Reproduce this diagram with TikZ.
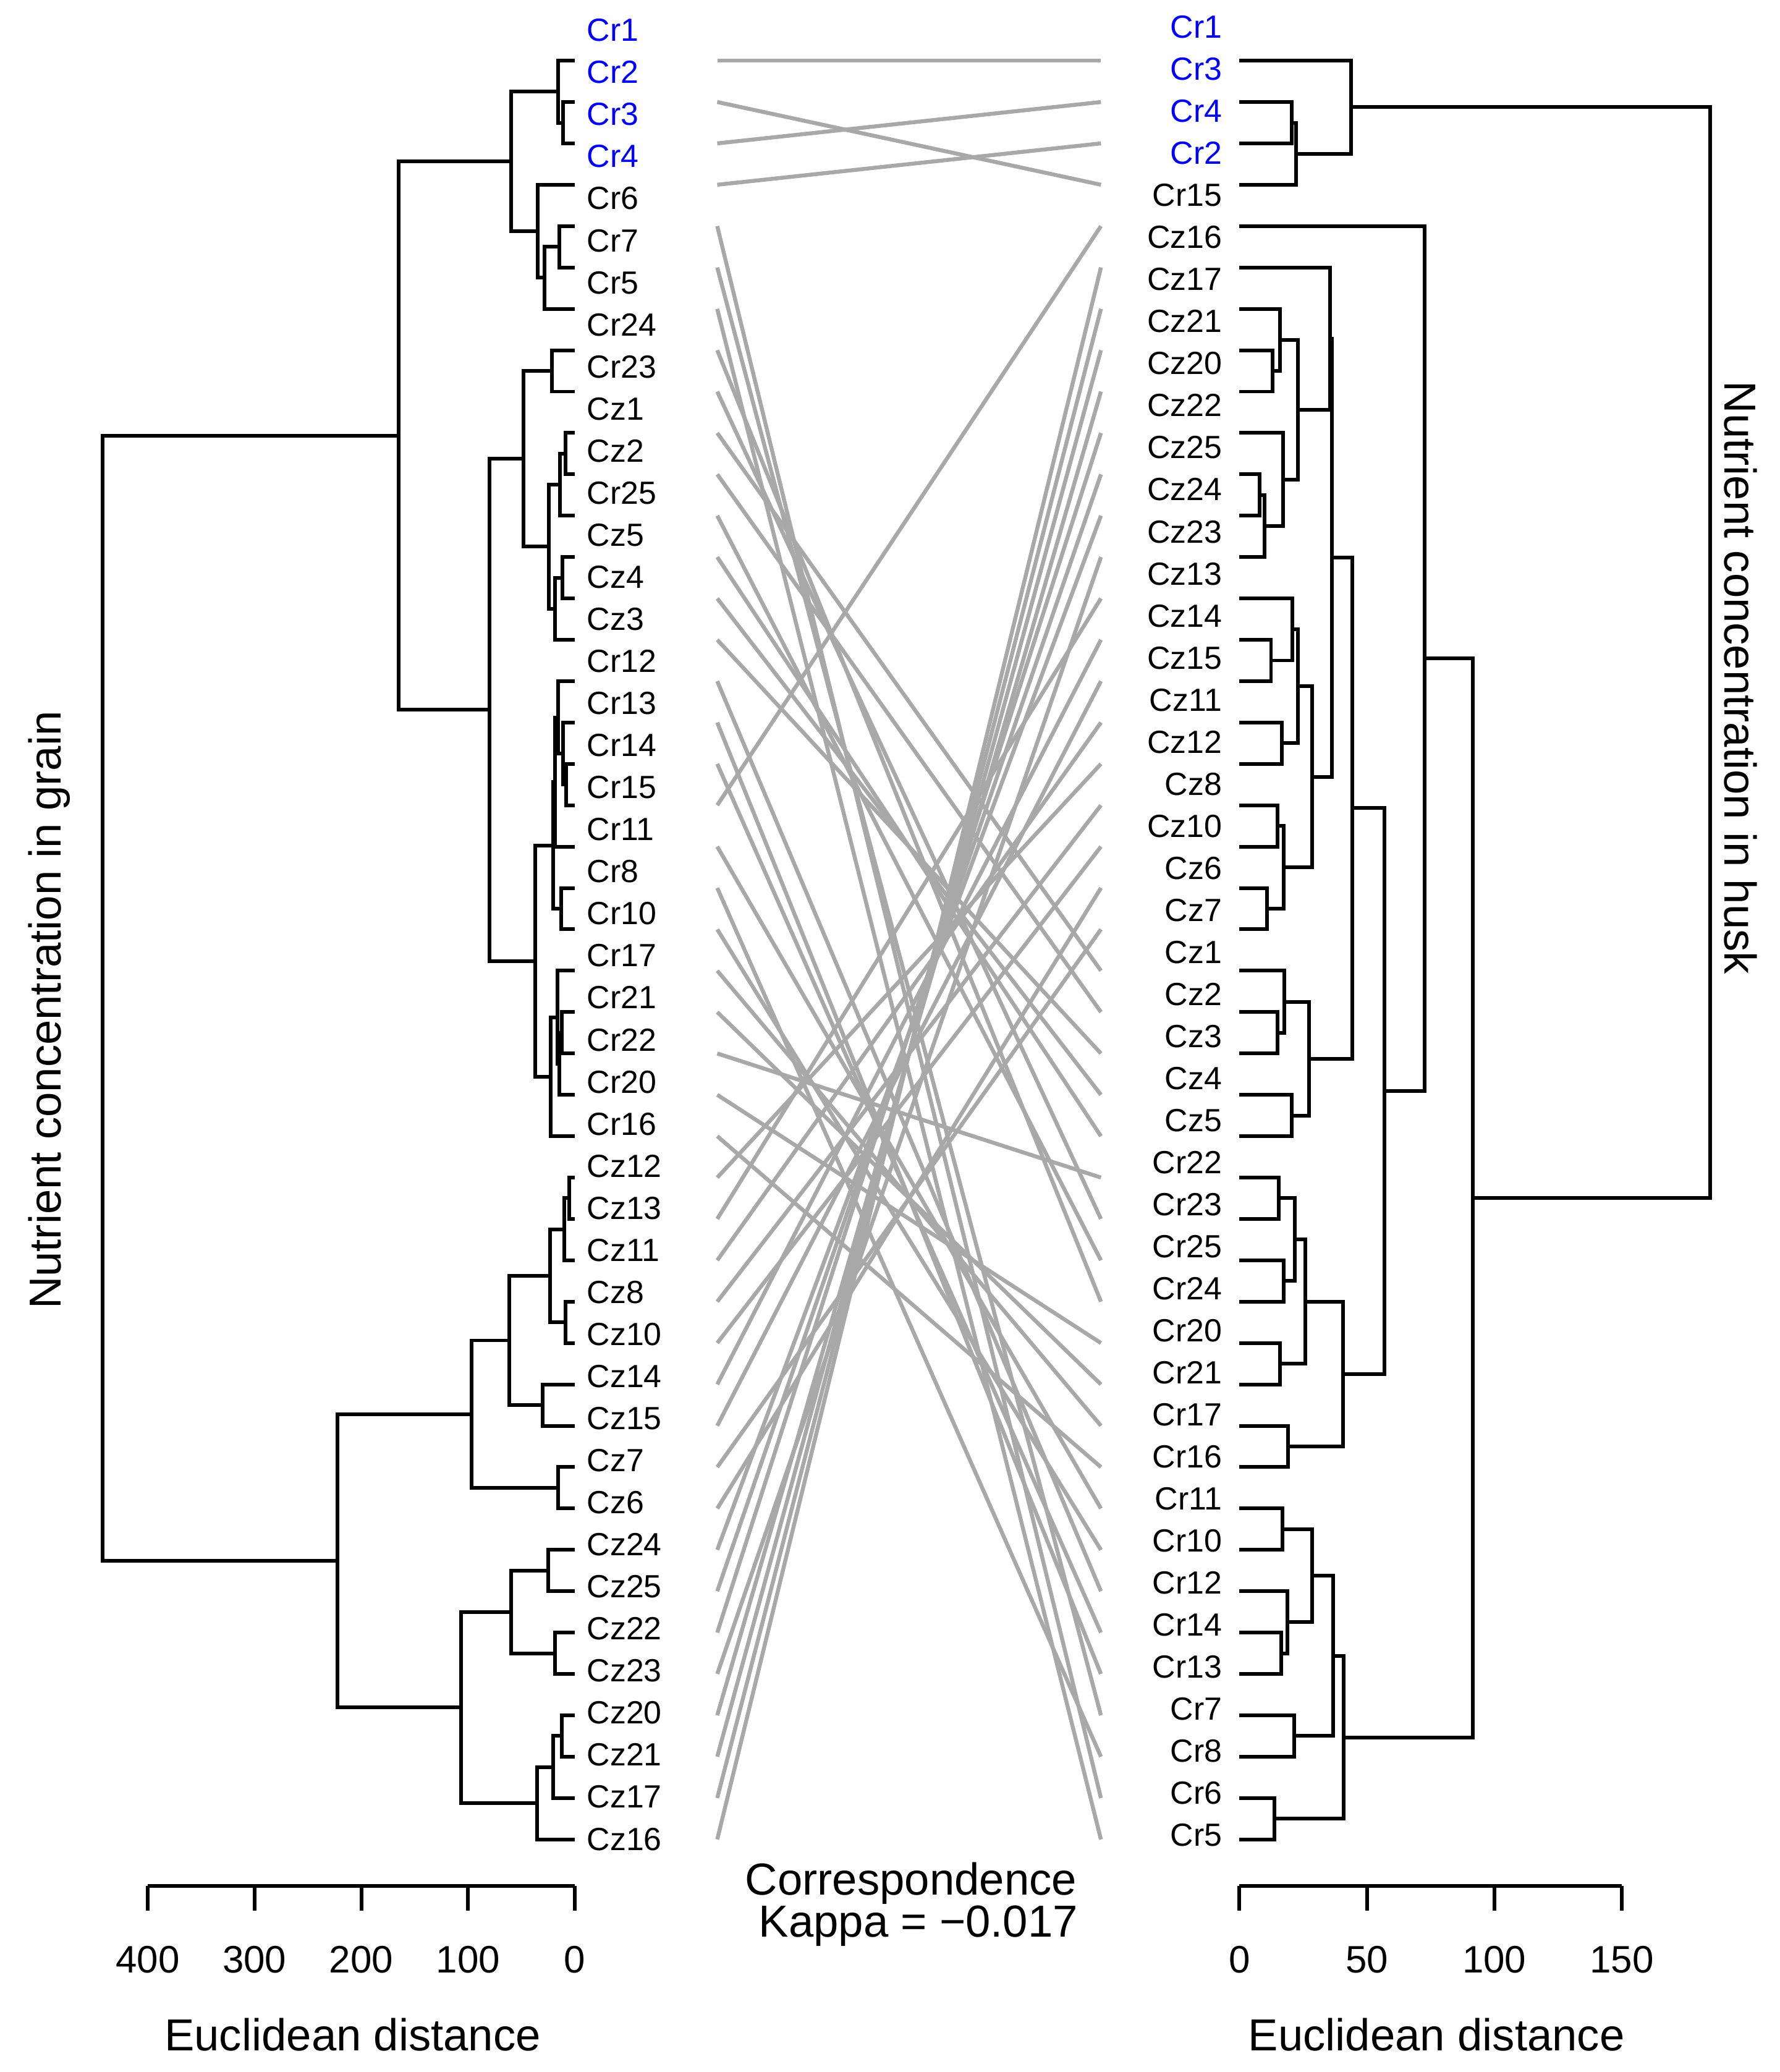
\documentclass[tikz,border=0pt]{standalone}
\usepackage{fontspec}
\setmainfont{Liberation Sans}
\usetikzlibrary{calc}

\definecolor{linkgrey}{HTML}{A8A8A8}
\definecolor{crblue}{HTML}{0000FF}

\tikzset{
  branch/.style={line width=2.8pt},
  tanglink/.style={linkgrey, line width=3pt},
  leaflab/.style={inner sep=0pt, font=\fontsize{24.3}{28}\selectfont},
  axislab/.style={inner sep=0pt, font=\fontsize{29}{34}\selectfont},
  titlelab/.style={inner sep=0pt, font=\fontsize{34}{40}\selectfont},
  ylab/.style={inner sep=0pt, font=\fontsize{34}{40}\selectfont}
}

% join two branches at height #4
\newcommand{\dmerge}[4]{%
  \path let \p1 = ($(#2)!0.5!(#3)$) in coordinate (#1) at (#4pt,\y1);
  \draw[branch] (#2) -| (#1) |- (#3);
}

\begin{document}
\begin{tikzpicture}[x=1pt,y=-1pt]
    \useasboundingbox (0,0) rectangle (1350,1571.3);
    \foreach \i in {1,...,44} {
     \coordinate (l\i) at (436,{46+(\i-1)*31.37});
     \coordinate (r\i) at (940,{46+(\i-1)*31.37});
     \coordinate (gl\i) at (544,{46+(\i-1)*31.37});
     \coordinate (gr\i) at (835,{46+(\i-1)*31.37});
    }
    % leaf labels
    \foreach \lab [count=\i] in {Cr1,Cr2,Cr3,Cr4,Cr6,Cr7,Cr5,Cr24,Cr23,Cz1,Cz2,Cr25,Cz5,Cz4,Cz3,Cr12,Cr13,Cr14,Cr15,Cr11,Cr8,Cr10,Cr17,Cr21,Cr22,Cr20,Cr16,Cz12,Cz13,Cz11,Cz8,Cz10,Cz14,Cz15,Cz7,Cz6,Cz24,Cz25,Cz22,Cz23,Cz20,Cz21,Cz17,Cz16} {
     \ifnum\i<5 \def\labcol{crblue}\else\def\labcol{black}\fi
     \node[leaflab, text=\labcol, anchor=base west] (ll\i) at (445,{31.3+(\i-1)*31.9}) {\lab};
    }
    \foreach \lab [count=\i] in {Cr1,Cr3,Cr4,Cr2,Cr15,Cz16,Cz17,Cz21,Cz20,Cz22,Cz25,Cz24,Cz23,Cz13,Cz14,Cz15,Cz11,Cz12,Cz8,Cz10,Cz6,Cz7,Cz1,Cz2,Cz3,Cz4,Cz5,Cr22,Cr23,Cr25,Cr24,Cr20,Cr21,Cr17,Cr16,Cr11,Cr10,Cr12,Cr14,Cr13,Cr7,Cr8,Cr6,Cr5} {
     \ifnum\i<5 \def\labcol{crblue}\else\def\labcol{black}\fi
     \node[leaflab, text=\labcol, anchor=base east] (rl\i) at (927,{28.9+(\i-1)*31.89}) {\lab};
    }
    % grain tree
    \dmerge{a1}{l2}{l3}{427.2}
    \dmerge{a2}{l1}{a1}{423.3}
    \dmerge{a3}{l5}{l6}{424.1}
    \dmerge{a4}{a3}{l7}{413.2}
    \dmerge{a5}{l4}{a4}{407.8}
    \dmerge{a6}{a2}{a5}{387.5}
    \dmerge{a7}{l8}{l9}{418.6}
    \dmerge{a8}{l10}{l11}{428.7}
    \dmerge{a9}{a8}{l12}{424.9}
    \dmerge{a10}{l13}{l14}{426.4}
    \dmerge{a11}{a10}{l15}{421.0}
    \dmerge{a12}{a9}{a11}{416.3}
    \dmerge{a13}{a7}{a12}{396.9}
    \dmerge{a14}{l18}{l19}{429.5}
    \dmerge{a15}{l17}{a14}{427.1}
    \dmerge{a16}{l16}{a15}{423.5}
    \dmerge{a17}{a16}{l20}{421.1}
    \dmerge{a18}{l21}{l22}{425.6}
    \dmerge{a19}{a17}{a18}{419.6}
    \dmerge{a20}{l24}{l25}{426.3}
    \dmerge{a21}{a20}{l26}{424.4}
    \dmerge{a22}{l23}{a21}{423.0}
    \dmerge{a23}{a22}{l27}{417.7}
    \dmerge{a24}{a19}{a23}{405.9}
    \dmerge{a25}{a13}{a24}{371.2}
    \dmerge{a26}{a6}{a25}{302.5}
    \dmerge{a27}{l28}{l29}{431.5}
    \dmerge{a28}{a27}{l30}{428.0}
    \dmerge{a29}{l31}{l32}{429.0}
    \dmerge{a30}{a28}{a29}{417.1}
    \dmerge{a31}{l33}{l34}{411.5}
    \dmerge{a32}{a30}{a31}{386.4}
    \dmerge{a33}{l35}{l36}{423.2}
    \dmerge{a34}{a32}{a33}{357.8}
    \dmerge{a35}{l37}{l38}{415.9}
    \dmerge{a36}{l39}{l40}{421.1}
    \dmerge{a37}{a35}{a36}{387.8}
    \dmerge{a38}{l41}{l42}{426.2}
    \dmerge{a39}{a38}{l43}{419.7}
    \dmerge{a40}{a39}{l44}{407.5}
    \dmerge{a41}{a37}{a40}{349.6}
    \dmerge{a42}{a34}{a41}{256}
    \dmerge{a43}{a26}{a42}{78}
    % husk tree
    \dmerge{b1}{r2}{r3}{979.5}
    \dmerge{b2}{b1}{r4}{983.1}
    \dmerge{b3}{r1}{b2}{1024.5}
    \dmerge{b4}{r8}{r9}{965.3}
    \dmerge{b5}{r7}{b4}{971.0}
    \dmerge{b6}{r11}{r12}{955.5}
    \dmerge{b7}{b6}{r13}{959.1}
    \dmerge{b8}{r10}{b7}{973.0}
    \dmerge{b9}{b5}{b8}{984.2}
    \dmerge{b10}{r6}{b9}{1008.7}
    \dmerge{b11}{r15}{r16}{964.0}
    \dmerge{b12}{r14}{b11}{980.3}
    \dmerge{b13}{r17}{r18}{972.1}
    \dmerge{b14}{b12}{b13}{984.2}
    \dmerge{b15}{r19}{r20}{968.7}
    \dmerge{b16}{r21}{r22}{960.9}
    \dmerge{b17}{b15}{b16}{973.6}
    \dmerge{b18}{b14}{b17}{995.0}
    \dmerge{b19}{b10}{b18}{1010.1}
    \dmerge{b20}{r24}{r25}{968.7}
    \dmerge{b21}{r23}{b20}{974.1}
    \dmerge{b22}{r26}{r27}{979.5}
    \dmerge{b23}{b21}{b22}{992.7}
    \dmerge{b24}{b19}{b23}{1025.7}
    \dmerge{b25}{r28}{r29}{969.9}
    \dmerge{b26}{r30}{r31}{973.6}
    \dmerge{b27}{b25}{b26}{982.2}
    \dmerge{b28}{r32}{r33}{971.0}
    \dmerge{b29}{b27}{b28}{989.9}
    \dmerge{b30}{r34}{r35}{976.7}
    \dmerge{b31}{b29}{b30}{1018.4}
    \dmerge{b32}{b24}{b31}{1050.1}
    \dmerge{b33}{r5}{b32}{1080.3}
    \dmerge{b34}{r36}{r37}{972.8}
    \dmerge{b35}{r39}{r40}{971.9}
    \dmerge{b36}{r38}{b35}{976.2}
    \dmerge{b37}{b34}{b36}{995.0}
    \dmerge{b38}{r41}{r42}{981.8}
    \dmerge{b39}{b37}{b38}{1011.2}
    \dmerge{b40}{r43}{r44}{966.4}
    \dmerge{b41}{b39}{b40}{1018.9}
    \dmerge{b42}{b33}{b41}{1116.9}
    \dmerge{b43}{b3}{b42}{1297}
    % connecting lines
    \foreach \i/\j in {1/1,2/4,3/2,4/3,5/43,6/41,7/44,8/31,9/29,10/23,11/24,12/30,13/27,14/26,15/25,16/38,17/40,18/39,19/5,20/36,21/42,22/37,23/34,24/33,25/28,26/32,27/35,28/18,29/14,30/17,31/19,32/20,33/15,34/16,35/22,36/21,37/12,38/11,39/10,40/13,41/9,42/8,43/7,44/6}
     \draw[tanglink] (gl\i) -- (gr\j);
    % axes
    \foreach \x/\t [count=\k] in {112/400,193/300,274/200,355/100,436/0} {
     \coordinate (lt\k) at (\x,1430);
     \draw[branch] (lt\k) -- ++(0,19);
     \node[axislab, anchor=base] (ltl\k) at (\x,1496) {\t};
    }
    \draw[branch] (lt1) -- (lt5);
    \foreach \x/\t [count=\k] in {940/0,1036.7/50,1133.3/100,1230/150} {
     \coordinate (rt\k) at (\x,1430);
     \draw[branch] (rt\k) -- ++(0,19);
     \node[axislab, anchor=base] (rtl\k) at (\x,1496) {\t};
    }
    \draw[branch] (rt1) -- (rt4);
    \node[titlelab, anchor=base] (ltitle) at (267.5,1555) {Euclidean distance};
    \node[titlelab, anchor=base] (rtitle) at (1089.5,1555) {Euclidean distance};
    \node[titlelab, anchor=base] (corr) at (691,1437) {Correspondence};
    \node[titlelab, anchor=base] (kappa) at (696.5,1469) {Kappa = −0.017};
    \node[ylab, rotate=90, anchor=base] (ygrain) at (46,766) {Nutrient concentration in grain};
    \node[ylab, rotate=-90, anchor=base] (yhusk) at (1308,514) {Nutrient concentration in husk};
   \end{tikzpicture}
\end{document}
